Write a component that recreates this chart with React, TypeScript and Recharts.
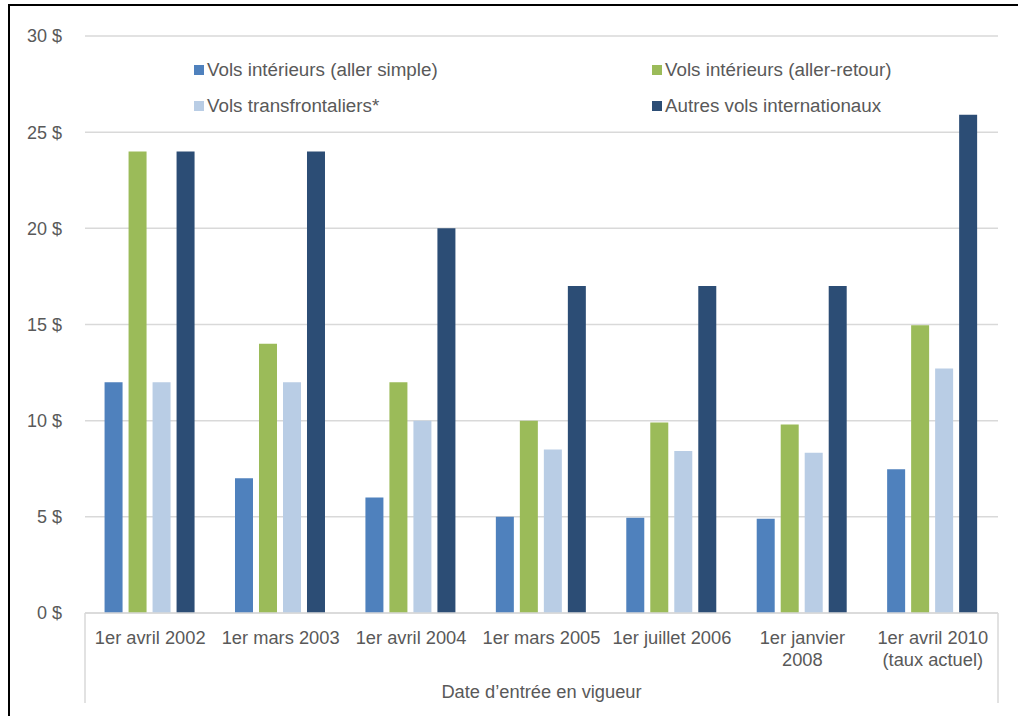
import React from "react";
import { BarChart, Bar, XAxis, YAxis, CartesianGrid, Legend } from "recharts";

const categories = [
  "1er avril 2002",
  "1er mars 2003",
  "1er avril 2004",
  "1er mars 2005",
  "1er juillet 2006",
  "1er janvier\n2008",
  "1er avril 2010\n(taux actuel)",
];
const domesticOneWay = [12, 7, 6, 5, 4.95, 4.9, 7.48];
const domesticRoundTrip = [24, 14, 12, 10, 9.9, 9.8, 14.96];
const transborder = [12, 12, 10, 8.5, 8.42, 8.33, 12.71];
const otherInternational = [24, 24, 20, 17, 17, 17, 25.91];
const yTicks = [0, 5, 10, 15, 20, 25, 30];

const seriesNames = [
  "Vols intérieurs (aller simple)",
  "Vols intérieurs (aller-retour)",
  "Vols transfrontaliers*",
  "Autres vols internationaux",
];
const seriesColors = ["#4f81bd", "#9bbb59", "#b9cde5", "#2c4d75"];
const xTitle = "Date d’entrée en vigueur";

const data = categories.map((c, i) => ({
  cat: c,
  s0: domesticOneWay[i],
  s1: domesticRoundTrip[i],
  s2: transborder[i],
  s3: otherInternational[i],
}));

const TEXT = "#595959";
const GRID = "#d9d9d9";
const FONT = "'Liberation Sans', Arial, sans-serif";

const CatTick = (props: any) => {
  const { x, y, payload } = props;
  const lines = String(payload.value).split("\n");
  return (
    <g>
      {lines.map((l: string, i: number) => (
        <text
          key={i}
          x={x}
          y={y + 23 + i * 22}
          textAnchor="middle"
          fill={TEXT}
          fontSize={18.3}
          fontFamily={FONT}
        >
          {l}
        </text>
      ))}
    </g>
  );
};

const AxisTitle = (props: any) => {
  const vb = props.viewBox || {};
  const x = vb.x ?? 85;
  const y = vb.y ?? 613;
  const w = vb.width ?? 913;
  return (
    <g>
      <line x1={x} y1={y} x2={x} y2={y + 90} stroke={GRID} strokeWidth={1.5} />
      <line x1={x + w} y1={y} x2={x + w} y2={y + 90} stroke={GRID} strokeWidth={1.5} />
      <text
        x={x + w / 2}
        y={y + 85}
        textAnchor="middle"
        fill={TEXT}
        fontSize={18.3}
        fontFamily={FONT}
      >
        {xTitle}
      </text>
    </g>
  );
};

const LegendContent = () => {
  const pos = [
    { left: 194, top: 61 },
    { left: 652, top: 61 },
    { left: 194, top: 97 },
    { left: 652, top: 97 },
  ];
  return (
    <div style={{ position: "relative", width: 1018, height: 80 }}>
      {seriesNames.map((n, i) => (
        <div
          key={n}
          style={{
            position: "absolute",
            left: pos[i].left,
            top: pos[i].top - 55,
            display: "flex",
            alignItems: "center",
            whiteSpace: "nowrap",
            fontFamily: FONT,
            fontSize: 18.8,
            color: TEXT,
            lineHeight: "18px",
          }}
        >
          <span
            style={{
              display: "inline-block",
              width: 10,
              height: 10,
              background: seriesColors[i],
              marginRight: 3,
            }}
          />
          <span>{n}</span>
        </div>
      ))}
    </div>
  );
};

export default function App() {
  return (
    <div
      style={{
        position: "absolute",
        left: 0,
        top: 0,
        width: 1018,
        height: 716,
        overflow: "hidden",
        background: "#fff",
      }}
    >
      <div
        style={{
          position: "absolute",
          left: 8,
          top: 4,
          width: 1030,
          height: 730,
          borderLeft: "2px solid #000",
          borderTop: "2px solid #000",
          boxSizing: "border-box",
        }}
      />
      <div style={{ position: "absolute", left: 0, top: 0 }}>
        <BarChart
          width={1018}
          height={716}
          data={data}
          margin={{ top: 36, right: 20, left: 0, bottom: 0 }}
          barCategoryGap="15%"
          barGap={6}
        >
          <CartesianGrid vertical={false} stroke={GRID} strokeWidth={1.5} />
          <XAxis
            dataKey="cat"
            height={103}
            interval={0}
            tickLine={false}
            axisLine={{ stroke: GRID, strokeWidth: 1.5 }}
            tick={<CatTick />}
            label={{ content: <AxisTitle /> } as any}
          />
          <YAxis
            width={85}
            domain={[0, 30]}
            ticks={yTicks}
            tickLine={false}
            axisLine={false}
            tickSize={0}
            tickMargin={23}
            tickFormatter={(v: number) => `${v} $`}
            tick={{ fill: TEXT, fontSize: 18, fontFamily: FONT }}
          />
          <Legend
            layout="horizontal"
            verticalAlign="middle"
            align="center"
            wrapperStyle={{ position: "absolute", left: 0, top: 55, width: 1018 }}
            content={<LegendContent />}
          />
          <Bar dataKey="s0" name={seriesNames[0]} fill={seriesColors[0]} isAnimationActive={false} />
          <Bar dataKey="s1" name={seriesNames[1]} fill={seriesColors[1]} isAnimationActive={false} />
          <Bar dataKey="s2" name={seriesNames[2]} fill={seriesColors[2]} isAnimationActive={false} />
          <Bar dataKey="s3" name={seriesNames[3]} fill={seriesColors[3]} isAnimationActive={false} />
        </BarChart>
      </div>
    </div>
  );
}
